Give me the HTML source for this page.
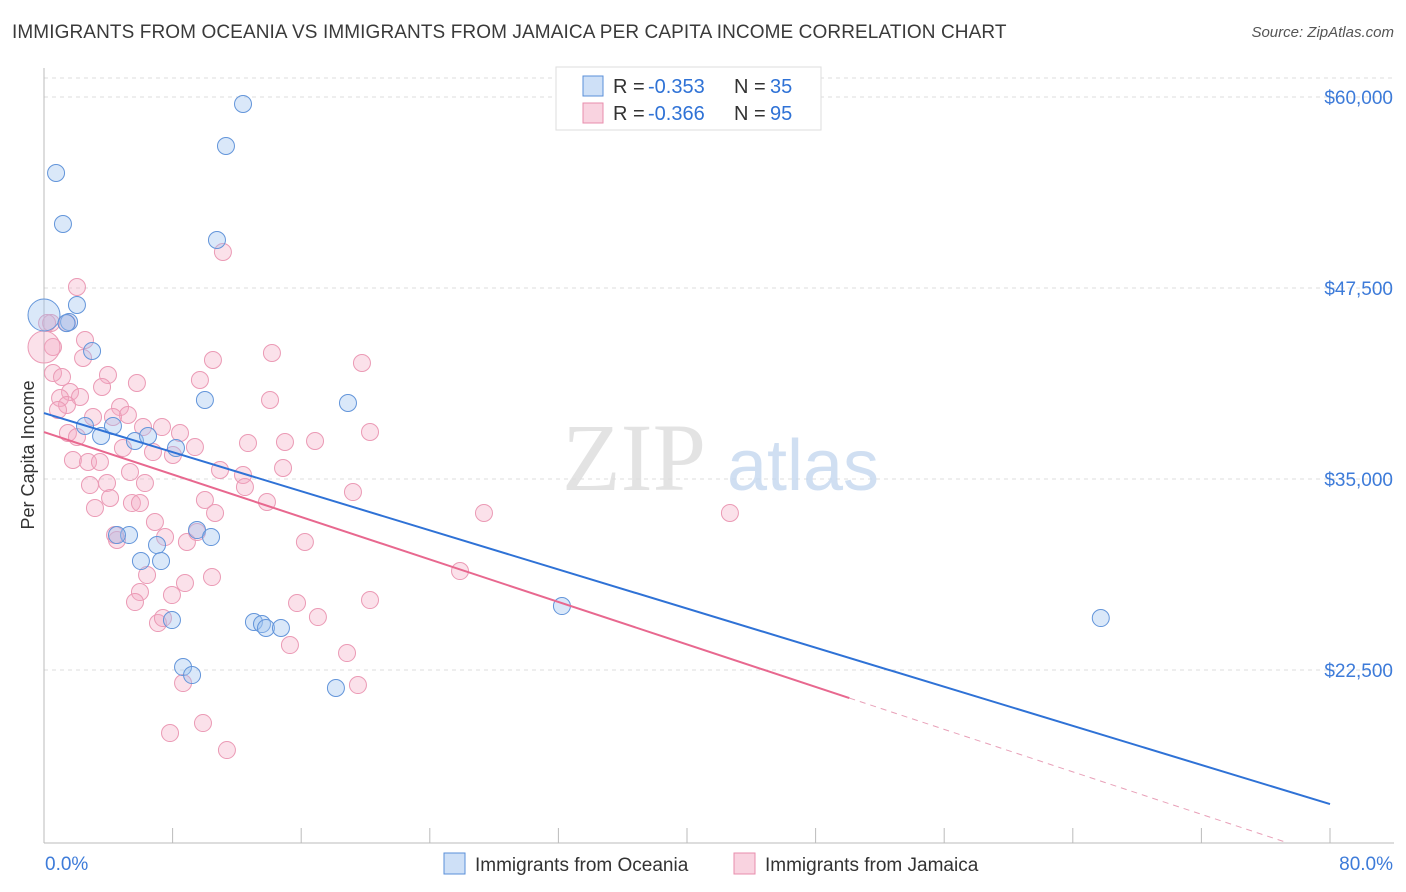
<!DOCTYPE html>
<html><head><meta charset="utf-8"><style>
body{margin:0;background:#fff;font-family:"Liberation Sans",sans-serif;}
#wrap{position:relative;width:1406px;height:892px;overflow:hidden;}
.t{position:absolute;white-space:nowrap;}
</style></head><body>
<div id="wrap">
<div class="t" style="left:12px;top:22px;font-size:19px;color:#3a3a3a;letter-spacing:0.1px;">IMMIGRANTS FROM OCEANIA VS IMMIGRANTS FROM JAMAICA PER CAPITA INCOME CORRELATION CHART</div>
<div class="t" style="right:12px;top:24px;font-size:15px;color:#555;font-style:italic;">Source: ZipAtlas.com</div>
<svg id="svg" width="1406" height="892" style="position:absolute;left:0;top:0"></svg>
</div>
<script>
const xTickLabels=["0.0%","80.0%"];
const yTicks=[22500,35000,47500,60000];
const yTickLabels=["$22,500","$35,000","$47,500","$60,000"];
const oceaniaX=[0,0.75,1.18,2.05,1.56,2.99,2.55,3.55,4.29,5.29,4.54,5.66,6.47,8.21,7.03,6.03,7.28,7.96,8.65,9.21,9.52,10.39,10.01,10.76,11.32,12.38,13.06,13.56,13.81,14.74,18.16,18.91,32.22,65.74,1.4];
const oceaniaY=[45732,55026,51688,46386,45274,43376,38467,37813,38467,31333,31333,37485,37813,37027,30678,29631,29631,25770,22694,22170,31660,31202,40169,50641,56793,59542,25640,25508,25247,25247,21320,39972,26686,25901,45200];
const jamaicaX=[2.05,0.44,1.43,0.56,2.55,2.43,0.56,1.12,3.98,3.61,5.78,10.51,9.70,14.18,14.06,19.78,20.28,1.62,1.00,2.24,1.43,0.87,3.05,4.73,5.22,4.29,1.49,2.05,6.16,7.34,8.46,9.39,6.78,8.02,4.91,12.69,14.99,16.86,1.80,2.74,3.48,10.95,12.38,14.87,5.35,2.86,3.92,6.28,12.50,3.17,4.11,5.47,5.97,10.01,10.64,13.87,19.22,6.90,7.53,8.89,4.54,4.42,9.52,16.23,6.41,5.97,5.66,8.77,7.96,10.45,7.09,7.40,15.74,17.04,15.30,20.28,18.85,8.65,19.53,9.89,7.84,11.38,11.13,27.37,42.67,25.88,0,0.19];
const jamaicaY=[47564,45208,45208,43637,44096,42918,41936,41674,41805,41019,41281,42787,41478,43245,40169,42590,38074,40692,40300,40365,39841,39514,39056,39710,39187,39056,38009,37747,38401,38401,38009,37092,36765,36569,37027,37354,37420,37485,36242,36111,36111,35587,35260,35718,35456,34605,34736,34736,34474,33100,33755,33427,33427,33624,32773,33493,34147,32184,31202,30875,31006,31333,31529,30875,28715,27602,26948,28191,27406,28584,25573,25901,26882,25966,24133,27079,23610,21646,21515,19028,18374,17261,49855,32773,32773,28977,43637,45208];
const bigOceania=[0];
const bigJamaica=[86];
const trendOceania=[39318,-319.9];
const trendJamaica=[38074,-347.5];
const jamaicaSolidEnd=50.1;

const X0=44,X1=1330;
const xs=v=>X0+(v/80)*(X1-X0);
const ys=v=>97+(60000-v)/12500*191;
const svg=document.getElementById('svg');
const NS='http://www.w3.org/2000/svg';
function mk(t,a,p){const e=document.createElementNS(NS,t);for(const k in a)e.setAttribute(k,a[k]);(p||svg).appendChild(e);return e;}
yTicks.forEach((v,i)=>{
 const g=mk('line',{x1:X0,x2:1394,y1:ys(v),y2:ys(v),stroke:'#ddd','stroke-dasharray':'4,4'});
 
 
 const t=mk('text',{x:1393,y:ys(v)+7,'text-anchor':'end','font-size':19,fill:'#3d7bd9','font-family':'Liberation Sans'});
 t.textContent=yTickLabels[i];
 
 
});
const tg=mk('line',{x1:X0,x2:1394,y1:78,y2:78,stroke:'#ddd','stroke-dasharray':'4,4'});


const ya=mk('line',{x1:X0,x2:X0,y1:68,y2:843,stroke:'#bbb'});


const xa=mk('line',{x1:X0,x2:1394,y1:843,y2:843,stroke:'#bbb'});


for(let i=0;i<=10;i++){const px=X0+i*128.6;
 const tk=mk('line',{x1:px,x2:px,y1:828,y2:843,stroke:'#bbb'});
 
 }
[[0,'start',45],[80,'end',1393]].forEach((d,i)=>{
 const t=mk('text',{x:d[2],y:870,'text-anchor':d[1],'font-size':19,fill:'#3d7bd9','font-family':'Liberation Sans'});
 t.textContent=xTickLabels[i];
 
 });
const yt=mk('text',{x:34,y:455,transform:'rotate(-90 34 455)','text-anchor':'middle','font-size':18,fill:'#333','font-family':'Liberation Sans'});
yt.textContent='Per Capita Income';


const w1=mk('text',{x:634,y:490,'text-anchor':'middle','font-size':96,fill:'#ddd','font-family':'Liberation Serif','opacity':0.8});
w1.textContent='ZIP';


const w2=mk('text',{x:803,y:490,'text-anchor':'middle','font-size':72,fill:'#c5d8f0','font-family':'Liberation Sans','opacity':0.8});
w2.textContent='atlas';


jamaicaX.forEach((x,i)=>{
 const c=mk('circle',{cx:xs(x),cy:ys(jamaicaY[i]),r:bigJamaica.includes(i)?16:8.5,fill:'rgba(244,168,194,0.35)',stroke:'#eb9ab5','stroke-width':1});
 
 });
oceaniaX.forEach((x,i)=>{
 const c=mk('circle',{cx:xs(x),cy:ys(oceaniaY[i]),r:bigOceania.includes(i)?16:8.5,fill:'rgba(158,194,240,0.38)',stroke:'#6395da','stroke-width':1});
 
 });
const tb=mk('line',{x1:xs(0),y1:ys(trendOceania[0]),x2:xs(80),y2:ys(trendOceania[0]+trendOceania[1]*80),stroke:'#2f72d6','stroke-width':2});


const tp=mk('line',{x1:xs(0),y1:ys(trendJamaica[0]),x2:xs(jamaicaSolidEnd),y2:ys(trendJamaica[0]+trendJamaica[1]*jamaicaSolidEnd),stroke:'#e8688f','stroke-width':2});


let xe=(11178-trendJamaica[0])/trendJamaica[1];if(xe>80)xe=80;
const td=mk('line',{x1:xs(jamaicaSolidEnd),y1:ys(trendJamaica[0]+trendJamaica[1]*jamaicaSolidEnd),x2:xs(xe),y2:ys(trendJamaica[0]+trendJamaica[1]*xe),stroke:'#e8a0b8','stroke-width':1,'stroke-dasharray':'6,5'});


const lb=mk('rect',{x:556,y:67,width:265,height:63,fill:'#fff',stroke:'#ddd'});


[[76,'rgba(158,194,240,0.5)','#5a8fd8','-0.353','35'],[103,'rgba(244,168,194,0.5)','#e88eac','-0.366','95']].forEach(r=>{
 const s=mk('rect',{x:583,y:r[0],width:20,height:20,fill:r[1],stroke:r[2]});
 
 
 const parts=[[613,'R = ','#333'],[648,r[3],'#2f72d6'],[734,'N = ','#333'],[770,r[4],'#2f72d6']];
 parts.forEach(p=>{
  const t=mk('text',{x:p[0],y:r[0]+17,'font-size':20,fill:p[2],'font-family':'Liberation Sans'});
  t.textContent=p[1];
  
  
 });});
[[444,'rgba(158,194,240,0.5)','#5a8fd8','Immigrants from Oceania','legend-oceania'],[734,'rgba(244,168,194,0.5)','#e88eac','Immigrants from Jamaica','legend-jamaica']].forEach(r=>{
 const s=mk('rect',{x:r[0],y:853,width:21,height:21,fill:r[1],stroke:r[2]});
 
 
 const t=mk('text',{x:r[0]+31,y:871,'font-size':19,fill:'#333','font-family':'Liberation Sans'});
 t.textContent=r[3];
 
 });
</script>
</body></html>
